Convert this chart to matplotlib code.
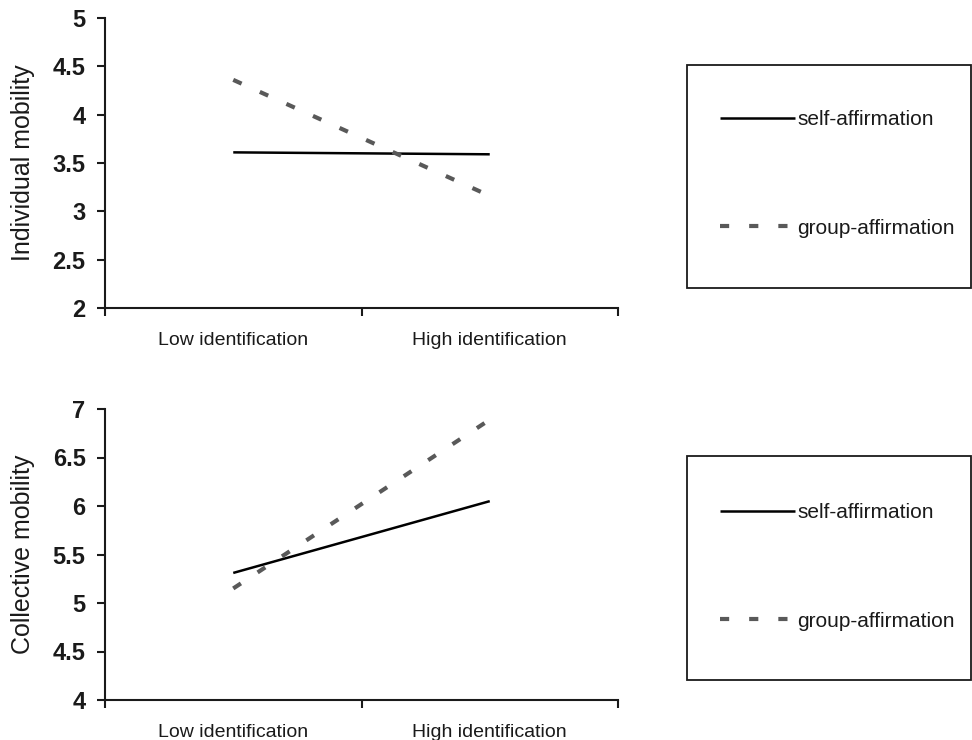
import matplotlib
matplotlib.use("Agg")
import matplotlib.pyplot as plt
from matplotlib.lines import Line2D
from matplotlib.patches import Rectangle
from matplotlib.ticker import FormatStrFormatter

plt.rcParams.update({
    "font.family": ["Liberation Sans", "DejaVu Sans"],
    "axes.spines.top": False,
    "axes.spines.right": False,
})

# --- data ---
conditions = ["Low identification", "High identification"]
series_names = ["self-affirmation", "group-affirmation"]
indiv_self = [3.61, 3.59]
indiv_group = [4.36, 3.16]
coll_self = [5.31, 6.05]
coll_group = [5.15, 6.89]

W, H = 972, 740
fig = plt.figure(figsize=(W / 100, H / 100), dpi=100)

DARK = "#1a1a1a"
GREY = "#595959"
SOLID = dict(color="black", lw=1.8, solid_capstyle="butt")
DASH = dict(color=GREY, lw=3.0, dashes=(2.2, 4.8), dash_capstyle="butt")

xpos = [0.5, 1.5]


def panel(rect, self_vals, group_vals, ylim, ylabel):
    ax = fig.add_axes(rect)
    ax.plot(xpos, self_vals, **SOLID)
    ax.plot(xpos, group_vals, **DASH)
    ax.set_xlim(0, 2)
    ax.set_ylim(*ylim)
    ax.set_xticks([0, 1, 2])
    ax.set_xticklabels([])
    ax.set_xticks(xpos, minor=True)
    ax.set_xticklabels(conditions, minor=True, fontsize=14, color=DARK)
    ax.tick_params(axis="x", which="minor", length=0, pad=17)
    ax.tick_params(axis="x", which="major", length=6, width=1.5, color=DARK)
    ticks = [ylim[0] + 0.5 * i for i in range(7)]
    ax.set_yticks(ticks)
    ax.yaxis.set_major_formatter(FormatStrFormatter("%g"))
    ax.tick_params(axis="y", length=6, width=1.5, pad=8, labelsize=17, color=DARK)
    for lab in ax.get_yticklabels():
        lab.set_fontweight("bold")
        lab.set_color(DARK)
    for s in ("left", "bottom"):
        ax.spines[s].set_linewidth(1.5)
        ax.spines[s].set_color(DARK)
    ax.set_ylabel(ylabel, fontsize=18, color=DARK)
    ax.yaxis.set_label_coords(-0.136, 0.5)
    return ax


def legend_box(y_top, y_bot, y_mid):
    # frame drawn as a figure rectangle, legend placed inside it
    x0 = 687 / W
    fig.patches.append(Rectangle((x0, 1 - y_bot / H), 971 / W - x0, (y_bot - y_top) / H,
                                 transform=fig.transFigure, fill=False,
                                 edgecolor=DARK, lw=1.3))
    handles = [Line2D([], [], **SOLID), Line2D([], [], **DASH)]
    fig.legend(handles, series_names, loc="center left",
               bbox_to_anchor=(720 / W, 1 - y_mid / H), frameon=False,
               fontsize=15, handlelength=3.6, handletextpad=0.1,
               labelspacing=4.28, borderpad=0, borderaxespad=0,
               labelcolor=DARK)


panel([105 / W, 1 - 308 / H, 513 / W, 290 / H], indiv_self, indiv_group,
      (2, 5), "Individual mobility")
panel([105 / W, 1 - 700 / H, 513 / W, 291 / H], coll_self, coll_group,
      (4, 7), "Collective mobility")

legend_box(65, 288, 174)
legend_box(456, 680, 567)

fig.savefig("out.png", dpi=100, facecolor="white")
